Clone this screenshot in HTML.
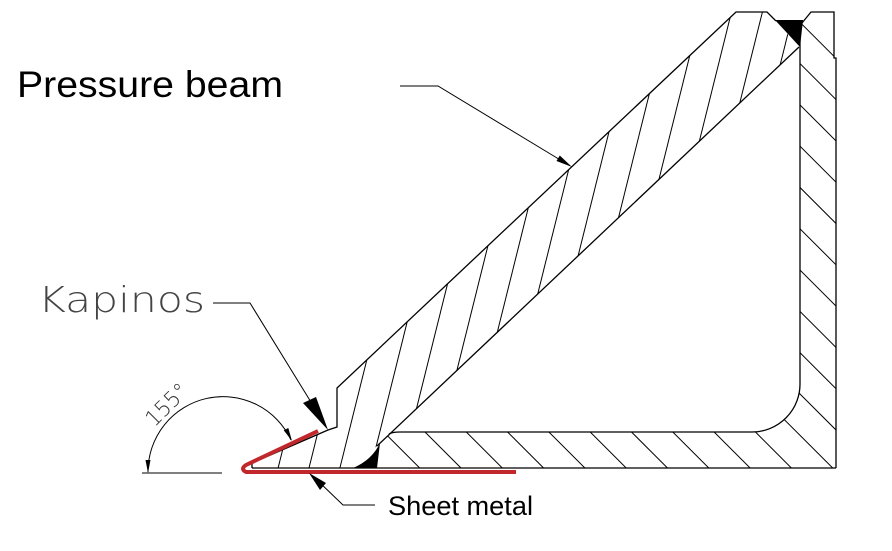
<!DOCTYPE html>
<html>
<head>
<meta charset="utf-8">
<style>
  html,body{margin:0;padding:0;background:#fff;}
  svg{display:block;}
</style>
</head>
<body>
<svg width="892" height="551" viewBox="0 0 892 551" xmlns="http://www.w3.org/2000/svg">
  <defs>
    <clipPath id="beamClip">
      <polygon points="252,468 252,463 328,430 337,427 337,388 736,12 767,12 776,21 799,47 377,446 353,468"/>
    </clipPath>
    <clipPath id="angleClip">
      <path d="M836,468 L836,58 L834,58 L834,12 L811,12 L802,23 L800,25 L800,383 A48,48 0 0 1 752,432 L400,432 Q392,432 389,434 L377,446 L377,468 Z"/>
    </clipPath>
  </defs>
  <rect width="892" height="551" fill="#fff"/>

  <!-- Beam hatching -->
  <g clip-path="url(#beamClip)" stroke="#000" stroke-width="1" fill="none">
    <line x1="278.1" y1="468" x2="394.6" y2="0"/>
    <line x1="309.0" y1="468" x2="425.5" y2="0"/>
    <line x1="339.9" y1="468" x2="456.4" y2="0"/>
    <line x1="370.8" y1="468" x2="487.3" y2="0"/>
    <line x1="401.7" y1="468" x2="518.2" y2="0"/>
    <line x1="432.6" y1="468" x2="549.1" y2="0"/>
    <line x1="463.5" y1="468" x2="580.0" y2="0"/>
    <line x1="494.4" y1="468" x2="610.9" y2="0"/>
    <line x1="525.3" y1="468" x2="641.8" y2="0"/>
    <line x1="556.2" y1="468" x2="672.7" y2="0"/>
    <line x1="587.1" y1="468" x2="703.6" y2="0"/>
    <line x1="618.0" y1="468" x2="734.5" y2="0"/>
    <line x1="648.9" y1="468" x2="765.4" y2="0"/>
    <line x1="679.8" y1="468" x2="796.3" y2="0"/>
  </g>

  <!-- Angle hatching (x - y = c) -->
  <g clip-path="url(#angleClip)" stroke="#000" stroke-width="1" fill="none">
    <line x1="-48.3" y1="0" x2="502.7" y2="551"/>
    <line x1="-7" y1="0" x2="544" y2="551"/>
    <line x1="34.3" y1="0" x2="585.3" y2="551"/>
    <line x1="75.6" y1="0" x2="626.6" y2="551"/>
    <line x1="116.9" y1="0" x2="667.9" y2="551"/>
    <line x1="158.2" y1="0" x2="709.2" y2="551"/>
    <line x1="199.5" y1="0" x2="750.5" y2="551"/>
    <line x1="240.8" y1="0" x2="791.8" y2="551"/>
    <line x1="282.1" y1="0" x2="833.1" y2="551"/>
    <line x1="323.4" y1="0" x2="874.4" y2="551"/>
    <line x1="364.7" y1="0" x2="915.7" y2="551"/>
    <line x1="406" y1="0" x2="957" y2="551"/>
    <line x1="447.3" y1="0" x2="998.3" y2="551"/>
    <line x1="488.6" y1="0" x2="1039.6" y2="551"/>
    <line x1="529.9" y1="0" x2="1080.9" y2="551"/>
    <line x1="571.2" y1="0" x2="1122.2" y2="551"/>
    <line x1="612.5" y1="0" x2="1163.5" y2="551"/>
    <line x1="653.8" y1="0" x2="1204.8" y2="551"/>
    <line x1="695.1" y1="0" x2="1246.1" y2="551"/>
    <line x1="736.4" y1="0" x2="1287.4" y2="551"/>
    <line x1="777.7" y1="0" x2="1328.7" y2="551"/>
  </g>

  <!-- Outlines -->
  <g stroke="#000" stroke-width="1.3" fill="none" stroke-linejoin="miter">
    <!-- bottom outer line -->
    <line x1="252" y1="468" x2="836" y2="468"/>
    <!-- angle outer -->
    <polyline points="836,468 836,58 834,58 834,12 811,12 802,23"/>
    <!-- angle inner -->
    <path d="M800,23 L800,383 A48,48 0 0 1 752,432 L400,432 Q392,432 389,434"/>
    <!-- beam outline -->
    <polyline points="252,468 252,463 328,430 337,427 337,388 736,12 767,12 776,21"/>
    <line x1="799" y1="47" x2="377" y2="446"/>
  </g>

  <!-- Welds -->
  <polygon points="775,20 803,20 800,47" fill="#000"/>
  <path d="M353,468 Q372,460 380,443 L377,468 Z" fill="#000"/>

  <!-- Red sheet metal -->
  <path d="M318,431 L246,465 Q240,469 246,472 L516,472" stroke="#c1272b" stroke-width="4" fill="none" stroke-linejoin="round"/>

  <!-- Dimension 155° -->
  <g stroke="#000" stroke-width="1" fill="none">
    <line x1="142" y1="473" x2="222" y2="473"/>
    <path d="M148,472 A75,75 0 0 1 291,440"/>
  </g>
  <polygon points="148,473 145.5,460 150.5,460" fill="#000"/>
  <polygon points="292,441 288.3,428 283.7,430.2" fill="#000"/>
  <text x="172" y="410" transform="rotate(-45 172 410)" text-anchor="middle" font-family="'DejaVu Sans','Liberation Sans',sans-serif" font-weight="200" font-size="22" fill="#333" textLength="50" lengthAdjust="spacingAndGlyphs">155°</text>

  <!-- Kapinos label -->
  <text x="38" y="312" font-family="'DejaVu Sans','Liberation Sans',sans-serif" font-weight="200" font-size="36" fill="#444" textLength="167" lengthAdjust="spacingAndGlyphs">Kapinos</text>
  <g stroke="#000" stroke-width="1" fill="none">
    <polyline points="213,303 250,303 322,420"/>
  </g>
  <polygon points="303,403 316,397 328,430" fill="#000"/>

  <!-- Pressure beam label -->
  <text x="17" y="97" font-family="'Liberation Sans',sans-serif" font-size="37" fill="#000" textLength="266" lengthAdjust="spacingAndGlyphs">Pressure beam</text>
  <g stroke="#000" stroke-width="1" fill="none">
    <polyline points="400,86 438,86 562,161"/>
  </g>
  <polygon points="572,167 556.5,161 559.8,155.5" fill="#000"/>

  <!-- Sheet metal label -->
  <text x="388" y="515" font-family="'Liberation Sans',sans-serif" font-size="27" fill="#000" textLength="145" lengthAdjust="spacingAndGlyphs">Sheet metal</text>
  <g stroke="#000" stroke-width="1" fill="none">
    <polyline points="375,505 343,505 318,481"/>
  </g>
  <polygon points="309,473 326,483 320,490" fill="#000"/>
</svg>
</body>
</html>
